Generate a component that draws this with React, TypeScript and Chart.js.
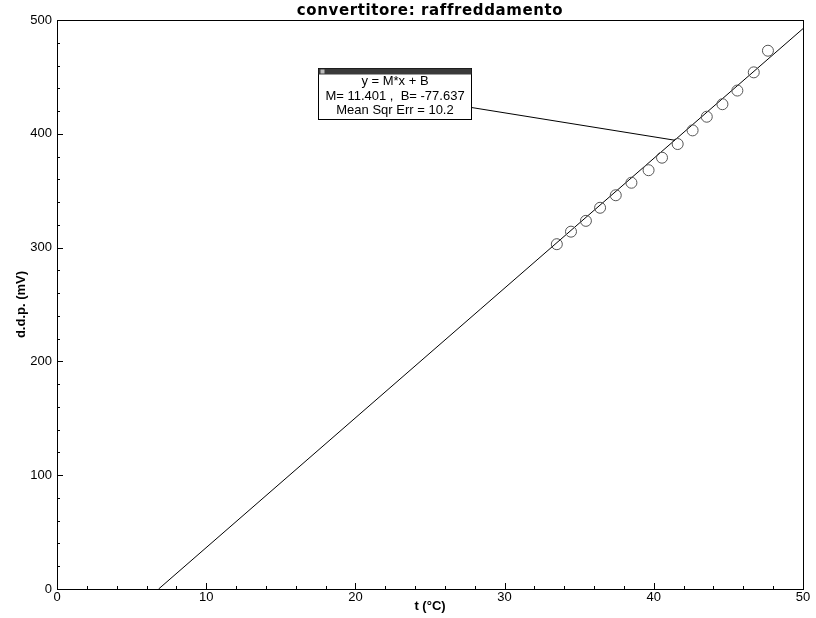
import React, { useEffect, useRef } from "react";
import Chart from "chart.js/auto";

const titleText = "convertitore: raffreddamento";
const xTitle = "t (°C)";
const yTitle = "d.d.p. (mV)";

const temps = [33.5, 34.45, 35.45, 36.4, 37.45, 38.5, 39.65, 40.55, 41.6, 42.6, 43.55, 44.6, 45.6, 46.7, 47.65];
const ddp = [303, 314, 323.5, 335, 346, 357, 368, 379, 391, 403, 415, 426, 438, 454, 473];

const fitM = 11.401;
const fitB = -77.637;
const fitMse = 10.2;
const fitX = [-fitB / fitM, 50];
const fitY = fitX.map((x) => fitM * x + fitB);
const fitLabels = ["y = M*x + B", "M= 11.401 ,  B= -77.637", "Mean Sqr Err = " + fitMse.toFixed(1)];
const anchorX = 41.4;

const NARROW = "'Liberation Sans Narrow', 'Liberation Sans', Arial, sans-serif";

const decorPlugin = {
  id: "decor",
  afterDraw(chart: any) {
    const ctx = chart.ctx as CanvasRenderingContext2D;
    const ca = chart.chartArea;
    const xs = chart.scales.x;
    const ys = chart.scales.y;
    ctx.save();
    // frame
    ctx.strokeStyle = "#000";
    ctx.lineWidth = 1;
    ctx.strokeRect(Math.round(ca.left) + 0.5, Math.round(ca.top) + 0.5, Math.round(ca.right - ca.left), Math.round(ca.bottom - ca.top));
    // ticks
    ctx.beginPath();
    for (let v = 0; v <= 50; v += 2) {
      const px = Math.round(xs.getPixelForValue(v)) + 0.5;
      const len = v % 10 === 0 ? 6 : 3;
      ctx.moveTo(px, ca.bottom);
      ctx.lineTo(px, ca.bottom - len);
    }
    for (let v = 0; v <= 500; v += 20) {
      const py = Math.round(ys.getPixelForValue(v)) + 0.5;
      const len = v % 100 === 0 ? 6 : 3;
      ctx.moveTo(ca.left, py);
      ctx.lineTo(ca.left + len, py);
    }
    ctx.stroke();
    // title
    ctx.fillStyle = "#000";
    ctx.font = "bold 15px 'DejaVu Sans', Verdana, sans-serif";
    (ctx as any).letterSpacing = "0.6px";
    ctx.textAlign = "center";
    ctx.textBaseline = "middle";
    ctx.fillText(titleText, (ca.left + ca.right) / 2, 11);
    (ctx as any).letterSpacing = "0px";
    // axis titles
    ctx.font = "bold 13px " + NARROW;
    ctx.fillText(xTitle, (ca.left + ca.right) / 2, 606);
    ctx.save();
    ctx.translate(21, (ca.top + ca.bottom) / 2);
    ctx.rotate(-Math.PI / 2);
    ctx.fillText(yTitle, 0, 0);
    ctx.restore();
    // annotation box
    const bx = 318.5, by = 68.5, bw = 153, bh = 51;
    const ax = xs.getPixelForValue(anchorX);
    const ay = ys.getPixelForValue(fitM * anchorX + fitB);
    ctx.beginPath();
    ctx.moveTo(bx + bw, by + 39);
    ctx.lineTo(ax, ay);
    ctx.stroke();
    ctx.fillStyle = "#fff";
    ctx.fillRect(bx, by, bw, bh);
    ctx.strokeRect(bx, by, bw, bh);
    ctx.fillStyle = "#3a3a3a";
    ctx.fillRect(bx, by, bw, 6);
    ctx.fillStyle = "#bbb";
    ctx.fillRect(bx + 2, by + 1, 4, 4);
    ctx.fillStyle = "#000";
    ctx.font = "13px 'Liberation Sans', Arial, sans-serif";
    ctx.textAlign = "center";
    fitLabels.forEach((t, i) => {
      ctx.fillText(t, bx + bw / 2, by + 13 + i * 14.5);
    });
    ctx.restore();
  },
};

export default function App() {
  const ref = useRef<HTMLCanvasElement | null>(null);
  useEffect(() => {
    if (!ref.current) return;
    const chart = new Chart(ref.current, {
      type: "scatter",
      data: {
        datasets: [
          {
            data: temps.map((x, i) => ({ x, y: ddp[i] })),
            showLine: false,
            pointRadius: 5.5,
            pointStyle: "circle",
            borderColor: "#555",
            backgroundColor: "rgba(0,0,0,0)",
            borderWidth: 1,
          },
          {
            data: fitX.map((x, i) => ({ x, y: fitY[i] })),
            showLine: true,
            pointRadius: 0,
            borderColor: "#000",
            borderWidth: 1,
          },
        ],
      },
      options: {
        animation: false,
        responsive: false,
        events: [],
        layout: { padding: { top: 20, right: 13, left: 0, bottom: 0 } },
        plugins: { legend: { display: false }, tooltip: { enabled: false }, title: { display: false } },
        scales: {
          x: {
            type: "linear",
            min: 0,
            max: 50,
            grid: { display: false, drawTicks: false },
            border: { display: false },
            ticks: { stepSize: 10, padding: 1, color: "#000", font: { family: NARROW, size: 13 }, maxRotation: 0 },
            afterFit: (s: any) => { s.height = 29; },
          },
          y: {
            type: "linear",
            min: 0,
            max: 500,
            grid: { display: false, drawTicks: false },
            border: { display: false },
            ticks: { stepSize: 100, padding: 5, color: "#000", font: { family: NARROW, size: 13 } },
            afterFit: (s: any) => { s.width = 57; },
          },
        },
      },
      plugins: [decorPlugin],
    } as any);
    return () => chart.destroy();
  }, []);
  return (
    <div style={{ position: "absolute", left: 0, top: 0, width: 816, height: 618, background: "#fff" }}>
      <canvas ref={ref} width={816} height={618} style={{ width: 816, height: 618, display: "block" }} />
    </div>
  );
}
